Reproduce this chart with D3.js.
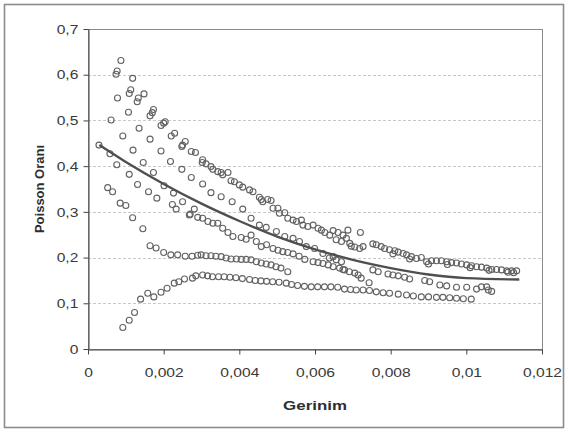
<!DOCTYPE html>
<html>
<head>
<meta charset="utf-8">
<script src="https://cdn.jsdelivr.net/npm/d3@7"></script>
<style>
  body { margin: 0; background: #fff; }
  svg { display: block; font-family: "Liberation Sans", Arial, sans-serif; }
</style>
</head>
<body>
<svg id="chart" width="568" height="432"></svg>
<script>
// tick labels
const xTicks = [0, 0.002, 0.004, 0.006, 0.008, 0.01, 0.012];
const yTicks = [0, 0.1, 0.2, 0.3, 0.4, 0.5, 0.6, 0.7];

const serA = [
  [0.00087,0.631],[0.00077,0.608],[0.00074,0.601],[0.00118,0.592],[0.00113,0.567],[0.00109,0.559],
  [0.00148,0.558],[0.00133,0.549],[0.00130,0.541],[0.00173,0.524],[0.00170,0.517],[0.00164,0.510],
  [0.00204,0.497],[0.00200,0.494],[0.00193,0.489],[0.00229,0.472],[0.00220,0.466],[0.00257,0.454],
  [0.00250,0.446],[0.00248,0.443],[0.00273,0.432],[0.00284,0.430],[0.00303,0.414],[0.00302,0.408],
  [0.00312,0.405],[0.00325,0.399],[0.00330,0.393],[0.00343,0.388],[0.00352,0.386],[0.00356,0.381],
  [0.00370,0.386],[0.00378,0.368],[0.00387,0.366],[0.00400,0.359],[0.00409,0.354],[0.00427,0.348],
  [0.00436,0.344],[0.00453,0.332],[0.00458,0.327],[0.00462,0.322],[0.00475,0.327],[0.00484,0.325],
  [0.00489,0.308],[0.00502,0.308],[0.00506,0.297],[0.00520,0.298],[0.00528,0.286],[0.00542,0.282],
  [0.00551,0.279],[0.00564,0.282],[0.00568,0.271],[0.00581,0.268],[0.00595,0.271],[0.00608,0.264],
  [0.00617,0.260],[0.00626,0.255],[0.00639,0.249],[0.00648,0.259],[0.00661,0.255],[0.00674,0.249],
  [0.00687,0.260],[0.00683,0.242],[0.00656,0.239],[0.00670,0.235],[0.00692,0.231],[0.00720,0.255]
];
const serB = [
  [0.00696,0.225],[0.00705,0.223],[0.00718,0.220],[0.00727,0.224],[0.00753,0.230],[0.00762,0.228],
  [0.00775,0.224],[0.00784,0.220],[0.00797,0.217],[0.00811,0.215],[0.00820,0.212],[0.00833,0.209],
  [0.00842,0.206],[0.00855,0.202],[0.00868,0.198],[0.00881,0.200],[0.00895,0.191],[0.00908,0.193],
  [0.00921,0.193],[0.00934,0.193],[0.00948,0.191],[0.00961,0.189],[0.00974,0.188],[0.00987,0.186],
  [0.01001,0.184],[0.01014,0.182],[0.01027,0.180],[0.01040,0.179],[0.01054,0.177],[0.01067,0.174],
  [0.01080,0.174],[0.01093,0.173],[0.01107,0.171],[0.01120,0.171],[0.01133,0.171],
  [0.00806,0.208],[0.00850,0.197],[0.00900,0.186],[0.00950,0.185],[0.01010,0.178],[0.01060,0.172],
  [0.01110,0.168],[0.01125,0.167]
];
const serC = [
  [0.00078,0.549],[0.00107,0.518],[0.00135,0.483],[0.00164,0.459],[0.00193,0.433],[0.00218,0.410],
  [0.00248,0.393],[0.00273,0.375],[0.00303,0.361],[0.00325,0.342],[0.00352,0.333],[0.00381,0.322],
  [0.00409,0.306],[0.00431,0.286],[0.00453,0.271],[0.00471,0.266],[0.00498,0.257],[0.00520,0.246],
  [0.00542,0.242],[0.00559,0.235],[0.00577,0.224],[0.00599,0.220],[0.00621,0.209],[0.00648,0.202],
  [0.00670,0.191],[0.00665,0.177],[0.00678,0.173],[0.00691,0.169],[0.00705,0.166],[0.00714,0.162],
  [0.00722,0.155],[0.00743,0.145]
];
const serD = [
  [0.00061,0.501],[0.00092,0.466],[0.00119,0.435],[0.00146,0.408],[0.00173,0.386],[0.00201,0.357],
  [0.00226,0.341],[0.00250,0.322],[0.00270,0.295],[0.00290,0.288],[0.00317,0.279],[0.00343,0.275],
  [0.00370,0.255],[0.00383,0.246],[0.00418,0.240],[0.00431,0.249],[0.00458,0.224],[0.00472,0.228],
  [0.00502,0.216],[0.00515,0.213],[0.00528,0.211],[0.00558,0.203],[0.00573,0.196],[0.00608,0.189],
  [0.00621,0.187],[0.00635,0.184],[0.00638,0.199],[0.00656,0.195]
];
const serE = [
  [0.00029,0.446],[0.00058,0.427],[0.00076,0.403],[0.00109,0.382],[0.00131,0.360],[0.00160,0.344],
  [0.00182,0.330],[0.00223,0.316],[0.00233,0.306],[0.00268,0.293],[0.00281,0.306],[0.00303,0.286],
  [0.00330,0.275],[0.00356,0.264],[0.00405,0.244],[0.00445,0.235],[0.00489,0.220],[0.00542,0.208],
  [0.00595,0.191],[0.00648,0.180],[0.00674,0.174],[0.00753,0.173],[0.00767,0.169],[0.00793,0.164],
  [0.00806,0.162],[0.00820,0.160],[0.00837,0.157],[0.00850,0.153],[0.00890,0.150],[0.00903,0.147],
  [0.00930,0.140],[0.00948,0.138],[0.00974,0.135],[0.01001,0.135],[0.01027,0.131],[0.01040,0.136],
  [0.01054,0.136],[0.01058,0.129],[0.01067,0.126]
];
const serF = [
  [0.00052,0.353],[0.00065,0.344],[0.00085,0.319],[0.00100,0.314],[0.00118,0.287],[0.00145,0.263],
  [0.00164,0.226],[0.00180,0.221],[0.00200,0.211],[0.00219,0.206],[0.00237,0.206],[0.00257,0.203],
  [0.00275,0.203],[0.00290,0.205],[0.00299,0.206],[0.00312,0.204],[0.00325,0.204],[0.00338,0.203],
  [0.00352,0.202],[0.00365,0.199],[0.00378,0.197],[0.00392,0.197],[0.00405,0.196],[0.00418,0.196],
  [0.00431,0.195],[0.00445,0.191],[0.00458,0.188],[0.00471,0.186],[0.00484,0.184],[0.00497,0.180],
  [0.00510,0.177],[0.00528,0.169]
];
const serG = [
  [0.00092,0.047],[0.00109,0.063],[0.00123,0.080],[0.00139,0.109],[0.00158,0.122],[0.00174,0.114],
  [0.00193,0.124],[0.00209,0.133],[0.00228,0.144],[0.00240,0.147],[0.00255,0.153],[0.00276,0.155],
  [0.00285,0.160],[0.00303,0.162],[0.00316,0.160],[0.00329,0.158],[0.00345,0.158],[0.00360,0.158],
  [0.00375,0.157],[0.00391,0.156],[0.00408,0.154],[0.00427,0.152],[0.00442,0.150],[0.00457,0.149],
  [0.00472,0.148],[0.00488,0.147],[0.00505,0.146],[0.00524,0.144],[0.00538,0.141],[0.00554,0.139],
  [0.00572,0.137],[0.00590,0.136],[0.00607,0.136],[0.00625,0.136],[0.00642,0.136],[0.00660,0.135],
  [0.00678,0.131],[0.00694,0.130],[0.00709,0.129],[0.00727,0.129],[0.00744,0.128],[0.00762,0.125],
  [0.00780,0.123],[0.00797,0.122],[0.00820,0.120],[0.00842,0.118],[0.00860,0.116],[0.00881,0.114],
  [0.00900,0.114],[0.00921,0.113],[0.00938,0.113],[0.00956,0.112],[0.00974,0.111],[0.00992,0.110],
  [0.01013,0.109]
];
// trend line
const trend = [
  [0.0003,0.446],[0.001,0.409],[0.002,0.361],[0.003,0.318],[0.004,0.280],[0.005,0.246],
  [0.006,0.218],[0.007,0.195],[0.008,0.177],[0.009,0.163],[0.010,0.155],[0.0114,0.152]
];

const series = [serA, serB, serC, serD, serE, serF, serG];

const width = 568, height = 432,
  margin = {left: 88, right: 26, top: 29, bottom: 83};

const x = d3.scaleLinear()
  .domain([0, 0.012])
  .range([margin.left, width - margin.right]);
const y = d3.scaleLinear()
  .domain([0, 0.7])
  .range([height - margin.bottom, margin.top]);

const fmt = d3.formatLocale({decimal: ",", thousands: ".", grouping: [3], currency: ["", ""]}).format("~g");

const svg = d3.select('#chart');

// outer chart frame
svg.append('rect')
  .attr('x', 4.5).attr('y', 4.5)
  .attr('width', width - 9).attr('height', height - 9)
  .attr('fill', '#fff')
  .attr('stroke', '#8c8c8c')
  .attr('stroke-width', 1.6);

// gridlines
svg.append('g')
  .selectAll('line')
  .data(yTicks.filter(d => d > 0 && d < 0.7))
  .join('line')
  .attr('x1', x(0)).attr('x2', x(0.012))
  .attr('y1', d => Math.round(y(d)) + 0.5).attr('y2', d => Math.round(y(d)) + 0.5)
  .attr('stroke', '#c8c8c8')
  .attr('stroke-dasharray', '3,2');

// plot area frame
svg.append('rect')
  .attr('x', x(0) + 0.5).attr('y', y(0.7) + 0.5)
  .attr('width', x(0.012) - x(0)).attr('height', y(0) - y(0.7))
  .attr('fill', 'none')
  .attr('stroke', '#8a8a8a');

const xAxis = d3.axisBottom(x).tickValues(xTicks).tickFormat(fmt).tickSize(5).tickPadding(13).tickSizeOuter(0);
const yAxis = d3.axisLeft(y).tickValues(yTicks).tickFormat(fmt).tickSize(5).tickPadding(3.5).tickSizeOuter(0);

const gx = svg.append('g')
  .attr('class', 'axis axis--x')
  .attr('transform', `translate(0, ${y(0) + 0.5})`)
  .call(xAxis);
const gy = svg.append('g')
  .attr('class', 'axis axis--y')
  .attr('transform', `translate(${x(0) + 0.5}, 0)`)
  .call(yAxis);

[gx, gy].forEach(g => {
  g.selectAll('path, line').attr('stroke', '#444');
  g.selectAll('text')
    .attr('fill', '#3a3a3a')
    .attr('font-size', 13)
    .attr('font-family', '"Liberation Sans", Arial, sans-serif')
    .attr('transform', 'scale(1.2,1)');
});

// markers
const dots = svg.append('g').attr('class', 'dots');
series.forEach((s, i) => {
  dots.append('g')
    .attr('class', 'series s' + i)
    .selectAll('circle')
    .data(s)
    .join('circle')
    .attr('cx', d => x(d[0]))
    .attr('cy', d => y(d[1]))
    .attr('r', 3)
    .attr('fill', 'none')
    .attr('stroke', '#626262')
    .attr('stroke-width', 1.1);
});

// trend line
svg.append('path')
  .datum(trend)
  .attr('fill', 'none')
  .attr('stroke', '#4f4f4f')
  .attr('stroke-width', 2.4)
  .attr('d', d3.line().x(d => x(d[0])).y(d => y(d[1])).curve(d3.curveMonotoneX));

// axis titles
svg.append('text')
  .attr('transform', `translate(${(x(0) + x(0.012)) / 2}, 410) scale(1.3,1)`)
  .attr('text-anchor', 'middle')
  .attr('font-size', 13)
  .attr('font-weight', 'bold')
  .attr('fill', '#2e2e2e')
  .text('Gerinim');

svg.append('text')
  .attr('transform', `translate(44, ${(y(0) + y(0.7)) / 2}) rotate(-90)`)
  .attr('text-anchor', 'middle')
  .attr('font-size', 13)
  .attr('font-weight', 'bold')
  .attr('fill', '#2e2e2e')
  .text('Poisson Oranı');
</script>
</body>
</html>
